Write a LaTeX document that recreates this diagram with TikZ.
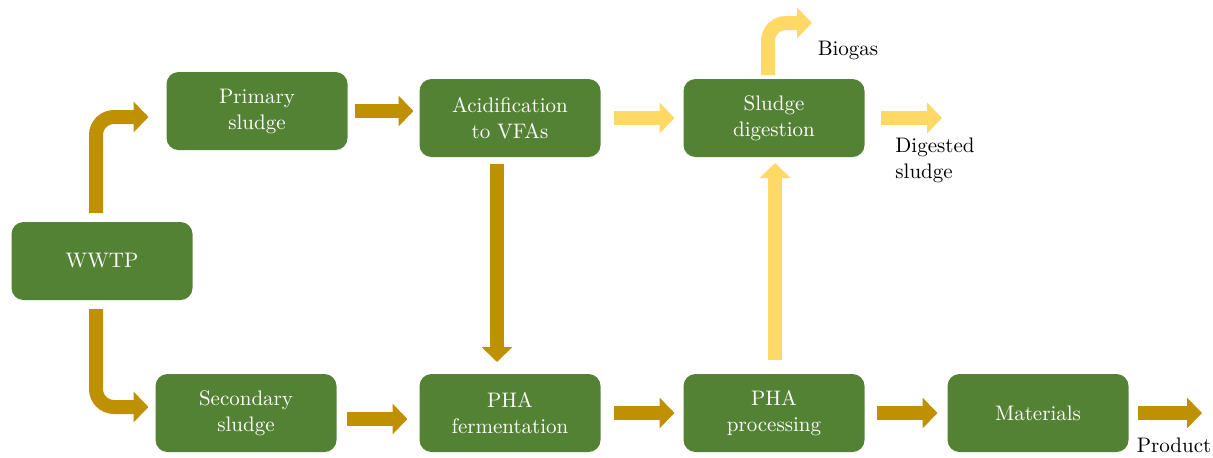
\documentclass[tikz,border=0pt]{standalone}
\usetikzlibrary{arrows.meta,chains,positioning,calc}

\definecolor{boxgreen}{RGB}{84,130,53}
\definecolor{darkgold}{RGB}{191,144,0}
\definecolor{lightgold}{RGB}{255,217,102}

\begin{document}
\begin{tikzpicture}[
x=0.5pt, y=-0.5pt,
node distance=41.5pt,
 start chain = B going right,
  box/.style = {rectangle, rounded corners=6pt, fill=boxgreen,% process boxes
                text=white, align=center,
                minimum width=90.5pt, minimum height=39pt,
                outer sep=0pt, font=\fontsize{10.5}{13}\selectfont},
 flow/.style = {draw=darkgold, line width=7pt, rounded corners=9pt,% thick block arrows
                -{Triangle[length=7.5pt, width=15pt]}},
light/.style = {flow, draw=lightgold},
  lbl/.style = {align=left, font=\fontsize{10.5}{13}\selectfont},
                        ]
\useasboundingbox (0,0) rectangle (1213,457);
% boxes
\node[box] (wwtp) at (102,261) {WWTP};
\node[box] (prim) at (257,111) {Primary\\sludge};
\node[box] (acid) at (510,118) {Acidification\\to VFAs};
\node[box] (dig)  at (774,118) {Sludge\\digestion};
\node[box, on chain] (sec) at (246,413) {Secondary\\sludge};
\node[box, on chain] (ferm) {PHA\\fermentation};
\node[box, on chain] (proc) {PHA\\processing};
\node[box, on chain] (mat)  {Materials};
% free ends and labels
\coordinate (bgend) at (812,23);
\coordinate (dgend) at (942,118);
\coordinate (prend) at (1202,413);
\node[lbl] (biogas) at (848,50) {Biogas};
\node[lbl] (digested) at (935,160) {Digested\\sludge};
\node[lbl] (product) at (1174,445) {Product};
% arrows
\draw[flow, shorten >=9pt] ($(wwtp.north)+(-6,-9)$) |- ($(prim.west)+(0,6)$);
\draw[flow, shorten >=3.5pt] ($(wwtp.south)+(-6,9)$) |- ($(sec.west)+(0,-6)$);
\draw[flow, shorten <=3.5pt, shorten >=3pt] (prim.east) -- (prim.east -| acid.west);
\draw[flow, shorten <=3.5pt, shorten >=6pt] ($(acid.south)+(-13,0)$) -- ($(ferm.north)+(-13,0)$);
\draw[light, shorten <=6.5pt, shorten >=4.5pt] (acid.east) -- (dig.west);
\draw[light, shorten <=7pt, shorten >=3pt] ($(proc.north)+(1,0)$) -- ($(dig.south)+(1,0)$);
\draw[light] ($(dig.north)+(-6,-4)$) |- (bgend);
\draw[light, shorten <=8pt] (dig.east) -- (dgend);
\draw[flow, shorten <=5pt, shorten >=6pt] ($(sec.east)+(0,6)$) -- ($(ferm.west)+(0,6)$);
\draw[flow, shorten <=6.5pt, shorten >=4.5pt] (ferm.east) -- (proc.west);
\draw[flow, shorten <=6pt, shorten >=5pt] (proc.east) -- (mat.west);
\draw[flow, shorten <=4.5pt] (mat.east) -- (prend);
\end{tikzpicture}
\end{document}
